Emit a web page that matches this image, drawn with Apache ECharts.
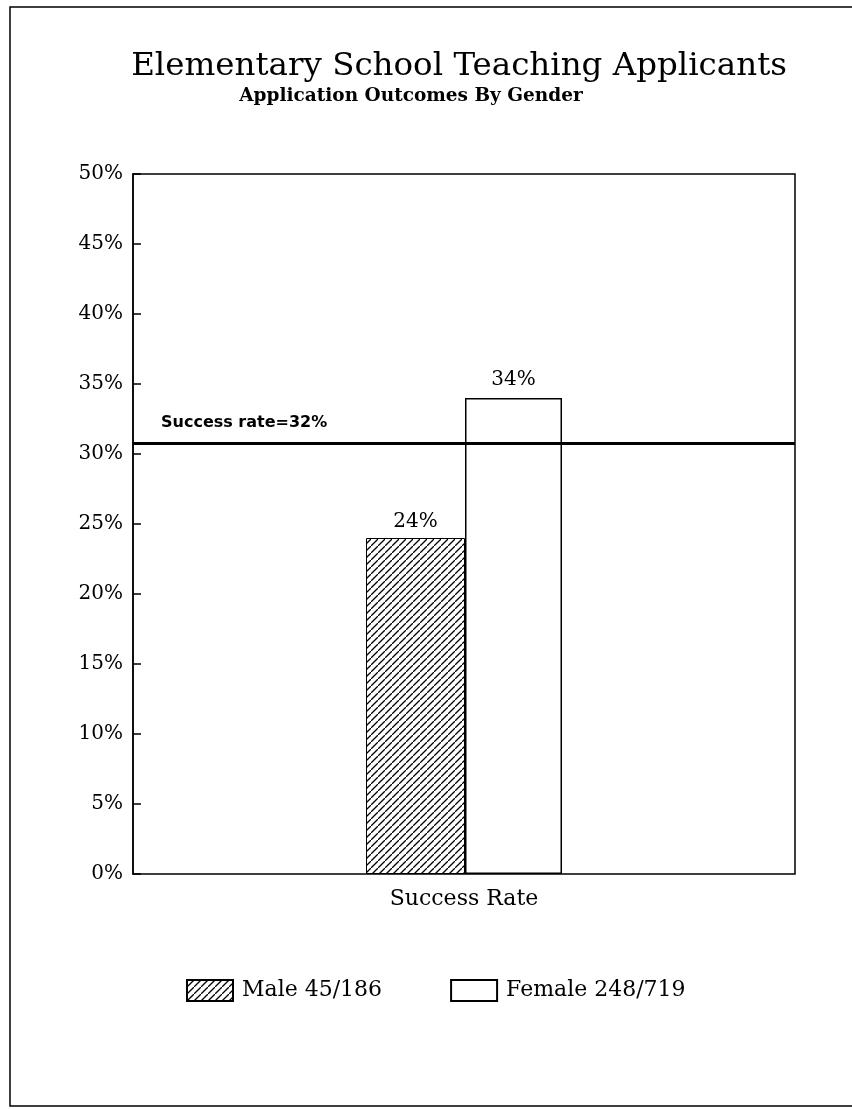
<!DOCTYPE html>
<html><head><meta charset="utf-8">
<script src="https://cdn.jsdelivr.net/npm/echarts@6/dist/echarts.min.js"></script>
<style>html,body{margin:0;padding:0;background:#fff}#c{width:852px;height:1109px}</style>
</head><body><div id="c"></div>
<script>
const categories = ['Success Rate'];
const seriesNames = ['Male 45/186', 'Female 248/719'];
const maleValues = [24];
const femaleValues = [34];
const barLabels = ['24%', '34%'];
const successRateLine = 30.8;
const successRateLabel = 'Success rate=32%';
const yTicks = { min: 0, max: 50, interval: 5 };
const titleText = 'Elementary School Teaching Applicants';
const subtitleText = 'Application Outcomes By Gender';

function hatch() {
  const s = 7;
  const c = document.createElement('canvas');
  c.width = s; c.height = s;
  const g = c.getContext('2d');
  g.fillStyle = '#fff'; g.fillRect(0, 0, s, s);
  g.strokeStyle = '#000'; g.lineWidth = 1.3;
  g.beginPath();
  g.moveTo(-1, s + 1); g.lineTo(s + 1, -1);
  g.moveTo(-s - 1, 1); g.lineTo(1, -s - 1);
  g.moveTo(s - 1, 2 * s + 1); g.lineTo(2 * s + 1, s - 1);
  g.stroke();
  return c;
}
const hatchPattern = { image: hatch(), repeat: 'repeat' };
const serif = "'DejaVu Serif', 'Liberation Serif', serif";

const chart = echarts.init(document.getElementById('c'), null, { renderer: 'canvas' });
chart.setOption({
  animation: false,
  backgroundColor: '#fff',
  title: [{
    text: titleText,
    left: 454, textAlign: 'center', top: 45,
    textStyle: { fontFamily: serif, fontWeight: 'normal', fontSize: 32.5, color: '#000' }
  }, {
    text: subtitleText,
    left: 406, textAlign: 'center', top: 82,
    textStyle: { fontFamily: serif, fontWeight: 'bold', fontSize: 18.5, color: '#000' }
  }],
  graphic: [{
    type: 'rect', shape: { x: 10, y: 7, width: 900, height: 1099 },
    style: { fill: 'none', stroke: '#000', lineWidth: 1.5 }, silent: true
  }],
  grid: { left: 133, right: 57, top: 174, bottom: 235, show: true, borderColor: '#000', borderWidth: 1.5, backgroundColor: 'transparent' },
  legend: {
    top: 974, left: 181, itemWidth: 46, itemHeight: 21, itemGap: 68,
    data: seriesNames,
    textStyle: { fontFamily: serif, fontSize: 22, color: '#000', padding: [0, 0, 0, 4] },
    icon: 'rect'
  },
  xAxis: {
    type: 'category', data: categories,
    axisLine: { show: false }, axisTick: { show: false },
    axisLabel: { fontFamily: serif, fontSize: 22, color: '#000', margin: 14 }
  },
  yAxis: {
    type: 'value', min: yTicks.min, max: yTicks.max, interval: yTicks.interval,
    axisLine: { show: true, lineStyle: { color: '#000', width: 1.5 } },
    axisTick: { show: true, inside: true, length: 8, lineStyle: { color: '#000', width: 1.5 } },
    splitLine: { show: false },
    axisLabel: { formatter: '{value}%', fontFamily: serif, fontSize: 20, color: '#000', margin: 10 }
  },
  series: [
    {
      name: seriesNames[0], type: 'bar', data: maleValues, barWidth: 99, barGap: '0%',
      itemStyle: { color: hatchPattern, borderColor: '#000', borderWidth: 1 },
      label: { show: true, position: 'top', distance: 6, formatter: () => barLabels[0], fontFamily: serif, fontSize: 20, color: '#000' },
      markLine: {
        silent: true, symbol: 'none',
        data: [{ yAxis: successRateLine }],
        lineStyle: { color: '#000', width: 3, type: 'solid' },
        label: {
          show: true, position: 'insideStartTop', formatter: successRateLabel,
          fontFamily: "'DejaVu Sans'", fontWeight: 'bold', fontSize: 16, color: '#000', distance: [28, 12]
        }
      }
    },
    {
      name: seriesNames[1], type: 'bar', data: femaleValues, barWidth: 97,
      itemStyle: { color: '#fff', borderColor: '#000', borderWidth: 1.5 },
      label: { show: true, position: 'top', distance: 8, formatter: () => barLabels[1], fontFamily: serif, fontSize: 20, color: '#000' }
    }
  ]
});
</script></body></html>
